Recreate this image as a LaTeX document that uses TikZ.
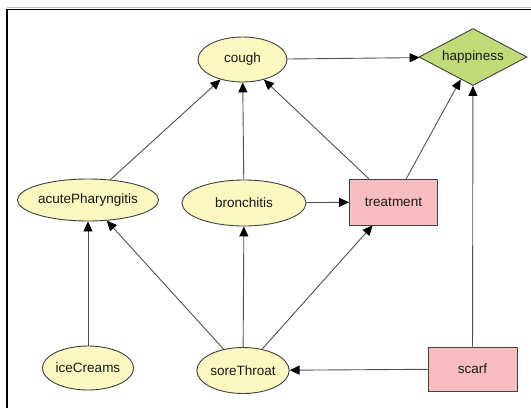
\documentclass[tikz,border=0pt]{standalone}
\usepackage{fontspec}
\setmainfont{Liberation Sans}
\usetikzlibrary{shapes.geometric,arrows.meta}

\definecolor{chancefill}{HTML}{FAF8C0}
\definecolor{utilfill}{HTML}{C3DA78}
\definecolor{decfill}{HTML}{F8BDC0}
\definecolor{nodeborder}{HTML}{404040}
\definecolor{edgeline}{HTML}{505050}

\tikzset{
  x=1pt, y=-1pt,
  every node/.style={font=\fontsize{13.5}{16}\selectfont, text=black!90, inner sep=0pt},
  chance/.style={ellipse, draw=nodeborder, fill=chancefill, line width=0.9pt},
  decision/.style={rectangle, draw=nodeborder, fill=decfill, line width=0.9pt},
  utility/.style={diamond, aspect=1.9, draw=nodeborder, fill=utilfill, line width=0.9pt,
    minimum width=108pt, minimum height=57pt},
  link/.style={draw=edgeline, line width=0.9pt,
    -{Triangle[length=10pt,width=9pt,color=black]}},
}

\begin{document}
\begin{tikzpicture}
\useasboundingbox (0,0) rectangle (531,408);

% frame of the canvas
\draw[black!25, line width=0.8pt] (7,7.8) -- (531,7.8);
\draw[black, line width=1.1pt] (7,408) -- (7,9.3) -- (531,9.3);

% chance nodes
\node[chance, minimum width=89pt, minimum height=45pt] (cough) at (242.5,59.5) {cough};
\node[chance, minimum width=126pt, minimum height=42pt] (acute) at (88,200) {acutePharyngitis};
\node[chance, minimum width=124pt, minimum height=46pt] (bron) at (244,203) {bronchitis};
\node[chance, minimum width=90pt, minimum height=44pt] (ice) at (88,368) {iceCreams};
\node[chance, minimum width=90pt, minimum height=46pt] (sore) at (243,370.5) {soreThroat};

% decision nodes
\node[decision, minimum width=88pt, minimum height=46pt] (treat) at (393.5,202) {treatment};
\node[decision, minimum width=89pt, minimum height=44pt] (scarf) at (472.5,369) {scarf};

% utility node
\node[utility] (happy) at (473,57) {happiness};

% influences
\draw[link] (cough) -- (happy);
\draw[link] (acute) -- (cough);
\draw[link] (bron) -- (cough);
\draw[link] (treat) -- (cough);
\draw[link] (treat) -- (happy);
\draw[link] (scarf) -- (happy);
\draw[link] (bron) -- (treat);
\draw[link] (ice) -- (acute);
\draw[link] (sore) -- (acute);
\draw[link] (sore) -- (bron);
\draw[link] (sore) -- (treat);
\draw[link] (scarf) -- (sore);
\end{tikzpicture}
\end{document}
